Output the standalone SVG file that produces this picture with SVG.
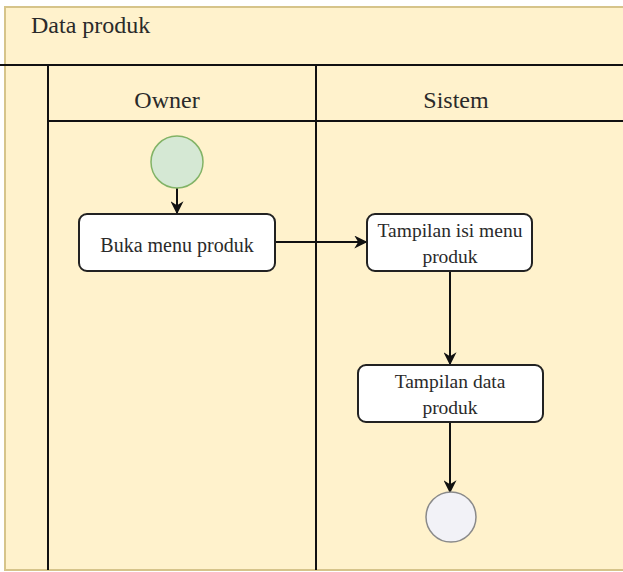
<svg xmlns="http://www.w3.org/2000/svg" width="623" height="572" viewBox="0 0 623 572">
<defs>
<style>
text{font-family:"Liberation Serif","DejaVu Serif",serif;fill:#2a2a2a}
.box{fill:#ffffff;stroke:#222;stroke-width:2}
.ln{stroke:#111;stroke-width:2;fill:none}
.e{stroke:#111;stroke-width:2;fill:none;marker-end:url(#ah)}
</style>
<marker id="ah" viewBox="0 0 10 10" refX="9" refY="5" markerWidth="6.5" markerHeight="6.5" orient="auto" markerUnits="strokeWidth">
<path d="M0,0 L10,5 L0,10 L3,5 Z" fill="#111"/>
</marker>
</defs>
<rect width="623" height="572" fill="#ffffff"/>
<g id="pool">
<rect x="5" y="7" width="620" height="563" fill="#fff2cc" stroke="#d6c48a" stroke-width="2"/>
<text x="31" y="33" font-size="24" font-family="Liberation Serif, DejaVu Serif, serif">Data produk</text>
<line class="ln" x1="0" y1="65" x2="623" y2="65"/>
<line class="ln" x1="48" y1="65" x2="48" y2="570"/>
<line class="ln" x1="316" y1="65" x2="316" y2="570"/>
<line class="ln" x1="48" y1="121" x2="623" y2="121"/>
<text x="167" y="108" font-size="24" text-anchor="middle" font-family="Liberation Serif, DejaVu Serif, serif">Owner</text>
<text x="456" y="108" font-size="24" text-anchor="middle" font-family="Liberation Serif, DejaVu Serif, serif">Sistem</text>
</g>
<g id="edges">
<line class="e" x1="177" y1="188" x2="177" y2="213"/>
<line class="e" x1="275" y1="242" x2="366" y2="242"/>
<line class="e" x1="450" y1="271" x2="450" y2="364"/>
<line class="e" x1="450" y1="422" x2="450" y2="492"/>
</g>
<g id="start">
<circle cx="177" cy="162" r="26" fill="#d5e8d4" stroke="#82b366" stroke-width="1.5"/>
</g>
<g id="buka">
<rect class="box" x="79" y="214" width="196" height="57" rx="8"/>
<text x="177" y="252" font-size="20" text-anchor="middle" font-family="Liberation Serif, DejaVu Serif, serif">Buka menu produk</text>
</g>
<g id="isi">
<rect class="box" x="367" y="214" width="165" height="57" rx="8"/>
<text x="450" y="237" font-size="19.5" text-anchor="middle" font-family="Liberation Serif, DejaVu Serif, serif">Tampilan isi menu</text>
<text x="450" y="263" font-size="19.5" text-anchor="middle" font-family="Liberation Serif, DejaVu Serif, serif">produk</text>
</g>
<g id="data">
<rect class="box" x="358" y="365" width="185" height="57" rx="8"/>
<text x="450" y="388" font-size="19.5" text-anchor="middle" font-family="Liberation Serif, DejaVu Serif, serif">Tampilan data</text>
<text x="450" y="414" font-size="19.5" text-anchor="middle" font-family="Liberation Serif, DejaVu Serif, serif">produk</text>
</g>
<g id="end">
<circle cx="451" cy="517" r="25" fill="#f2f2f7" stroke="#8a8a8a" stroke-width="1.5"/>
</g>
</svg>
